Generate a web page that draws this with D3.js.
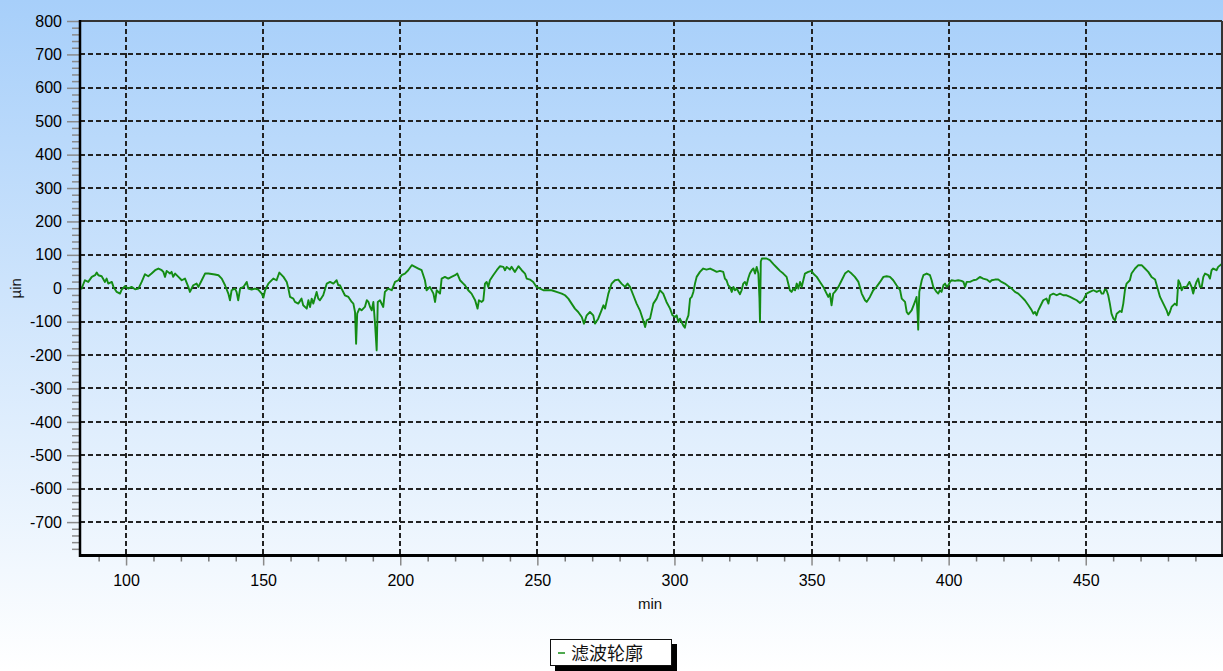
<!DOCTYPE html>
<html>
<head>
<meta charset="utf-8">
<script src="https://cdn.jsdelivr.net/npm/d3@7"></script>
<style>
  body { margin: 0; overflow: hidden; }
  svg { display: block; }
</style>
</head>
<body>
<svg id="chart" width="1223" height="671"></svg>
<script>
// Filtered profile: time (min) and deviation (µin)
const minutes = [
  83.2, 83.8, 84.4, 85.0, 86.2, 87.5, 88.7, 89.3, 89.9, 91.1, 92.3, 92.9, 93.5, 94.8, 95.4, 96.6, 97.8, 98.4, 99.6,
  100.8, 102.0, 103.3, 104.5, 105.7, 106.9, 108.1, 109.3, 110.6, 111.8, 113.0, 113.6, 114.2, 114.8, 116.0, 116.6, 117.2, 117.9, 119.1,
  120.3, 121.5, 122.7, 123.3, 124.5, 125.7, 126.4, 127.6, 128.8, 130.0, 132.4, 133.7, 134.9, 136.1, 137.3, 137.9, 138.5, 139.7,
  140.3, 140.9, 141.6, 142.8, 144.0, 144.6, 145.8, 147.0, 148.2, 149.5, 150.1, 150.7, 151.9,
  152.5, 153.7, 154.9, 155.9, 157.4, 158.6, 159.2, 159.8, 161.0, 161.6, 162.8, 164.0, 164.6, 165.9, 166.5, 167.1, 167.7, 168.3, 169.5,
  170.1, 170.7, 171.9, 173.2, 174.4, 175.6, 176.8, 177.4, 178.0, 178.6, 179.8, 181.1, 182.3, 182.9, 183.5, 183.9, 184.3, 185.1, 185.9,
  187.1, 187.8, 188.4, 189.0, 189.6, 190.2, 190.8, 191.4, 191.8, 192.6, 193.8, 194.4, 195.6, 196.9, 198.1, 199.3,
  200.5, 201.7, 202.9, 204.2, 205.4, 206.6, 207.8, 209.0, 209.6, 210.8, 212.1, 212.7, 213.3, 214.5, 215.1, 216.3, 217.5, 218.7,
  220.0, 220.8, 221.8, 223.0,
  223.6, 224.8, 226.0, 227.3, 228.2, 228.7, 229.7, 230.3, 230.9, 231.5, 232.1, 232.7, 233.9, 235.2, 236.4, 237.6, 238.2, 238.8,
  240.0, 240.6, 241.8, 243.1, 244.3, 245.5, 246.1, 247.3, 248.5, 249.7, 251.0, 252.2, 254.0, 255.2, 257.0, 258.9,
  260.1, 261.3, 262.5, 263.7, 264.9, 266.2, 267.0, 268.0, 269.2, 270.4, 271.0, 272.2, 273.4, 274.1, 274.7, 275.9, 277.1, 278.3, 279.5,
  280.7, 282.0, 282.9, 283.8, 285.0, 286.2, 287.4, 288.6, 289.3, 289.9, 291.1, 292.3, 293.5,
  294.7, 295.9, 297.1, 298.4, 299.3, 300.2, 300.8, 301.4, 302.0, 302.6, 303.2, 303.8, 304.4, 305.1, 305.7, 306.3, 306.9, 307.5, 308.1, 309.3,
  310.5, 311.7, 313.0, 314.2, 315.4, 316.6, 317.8, 318.4, 319.0, 319.6, 320.2, 320.9, 321.5, 322.1, 322.7, 323.9, 324.5, 325.1, 325.7,
  326.3, 326.9, 327.5, 328.2, 328.8, 329.4, 330.0, 330.6, 331.0, 331.2, 331.5, 331.9, 332.4, 333.6, 334.8, 336.1, 337.3, 338.5, 339.7,
  340.9, 341.5, 342.1, 342.7, 343.4, 344.0, 344.6, 345.2, 345.8, 346.4, 347.0, 347.6, 348.8, 350.0, 350.6, 351.9, 353.1, 354.3, 355.5,
  356.1, 356.7, 357.3, 357.9, 358.5, 359.8, 361.0, 362.2, 363.4, 364.6,
  365.8, 367.1, 368.3, 369.5, 370.1, 371.3, 372.5, 373.7, 375.0, 376.2, 377.4, 378.6, 379.8, 381.0, 382.3, 382.9, 384.1, 384.7, 385.3,
  386.5, 387.7, 388.3, 388.7, 388.9, 389.3, 390.2, 390.8, 392.0, 393.2, 393.8, 394.4, 395.6, 396.2, 396.8, 397.4, 398.1, 398.7, 399.3,
  399.9, 400.5, 401.1, 402.3, 403.5, 404.7, 405.4, 406.0, 406.6, 407.8, 409.0, 410.2, 411.4, 412.6, 413.9, 415.1, 415.7, 416.9, 418.1,
  419.3, 420.5, 421.8, 423.0, 424.2, 425.4, 426.6, 427.8, 429.1, 430.3, 430.9, 431.5, 432.1, 432.7,
  433.3, 434.5, 435.7, 436.4, 437.0, 438.2, 439.4, 440.6, 441.8, 443.0, 444.3, 445.5, 446.7, 447.9, 449.1, 449.7, 450.3, 451.5, 452.8,
  454.0, 455.2, 455.8, 456.4, 457.0, 457.6, 458.2, 458.8, 459.4, 460.1, 460.7, 461.3, 462.5, 463.1, 463.7, 464.3, 464.9, 466.1, 466.7,
  468.0, 469.2, 470.4, 471.6, 472.8, 474.0, 475.3, 475.9, 477.1, 478.3, 479.5, 480.1, 480.7, 481.3, 482.5, 483.2, 483.8, 484.4, 485.0,
  485.6, 486.8, 487.8, 488.6, 489.2, 489.8, 490.4, 491.0, 491.7, 492.3, 492.9, 493.5, 494.7, 495.3, 495.9, 496.5, 497.7, 498.3, 499.5
];
const values = [
  5, -1, 12, 24, 19, 34, 39, 47, 39, 36, 19, 29, 14, 19, 4, -11, -16, -4, 6,
  -1, 4, -3, -1, 19, 42, 36, 44, 54, 59, 54, 49, 34, 52, 44, 49, 34, 44, 34,
  24, 29, 4, -11, 9, 14, 4, 24, 44, 44, 41, 39, 29, 9, -16, -36, -6, -1,
  -11, -36, -1, 4, 19, -1, -4, -1, -4, -16, -28, -6, 14,
  19, 29, 24, 47, 34, 19, -1, -26, -31, -41, -46, -31, -51, -61, -36, -56, -31, -46, -11,
  -31, -36, -21, 14, 19, 14, 24, 9, 9, -1, -21, -26, -41, -46, -71, -166, -76, -61, -66,
  -56, -36, -41, -56, -66, -41, -106, -186, -41, -36, -56, -11, -1, -6, 19, 24,
  39, 44, 54, 69, 64, 59, 54, 24, -6, 4, -16, -41, -6, -16, 29, 34, 29, 34,
  39, 44, 24, 14,
  9, -6, -16, -36, -61, -36, -41, -36, 14, 19, 4, 24, 39, 54, 66, 64, 54, 64,
  56, 64, 49, 66, 54, 44, 29, 26, 19, 4, -1, -6, -6, -6, -11, -16,
  -21, -31, -46, -61, -71, -86, -106, -81, -71, -81, -106, -91, -66, -51, -61, -16, 14, 24, 26,
  14, 4, 14, 4, -21, -46, -66, -96, -116, -96, -91, -46, -31,
  -6, -16, -41, -61, -81, -86, -81, -101, -91, -101, -111, -118, -96, -81, -31, -26, -11, 14, 34, 49,
  59, 56, 59, 54, 49, 52, 49, 29, 24, 9, 4, -11, 4, -6, -1, -18, -6, 14, 19,
  9, 29, 44, 54, 59, 44, 64, 44, -30, -101, 80, 89, 89, 89, 84, 72, 62, 52, 44,
  34, 14, -6, -11, -1, -6, 14, -1, 19, 4, 24, 44, 49, 52, 44, 34, 19, 4, -16,
  -26, -16, -51, -16, -11, 4, 24, 44, 52, 44,
  34, 19, -16, -36, -41, -26, -6, 4, 19, 34, 36, 34, 24, 9, -6, -31, -41, -71, -78,
  -66, -41, -26, -81, -124, -11, 24, 39, 44, 39, 24, 4, -11, -16, -6, -11, 9, 14, 4,
  9, 19, 24, 22, 24, 22, 19, 4, 19, 19, 24, 26, 34, 29, 26, 19, 24, 26, 26,
  19, 14, 6, -1, -11, -16, -26, -36, -51, -66, -76, -71, -81, -66,
  -56, -36, -31, -46, -21, -16, -21, -16, -21, -21, -26, -31, -36, -44, -36, -26, -16, -11, -6,
  -11, -6, -16, -16, -4, -6, -21, -46, -76, -91, -96, -76, -68, -71, -46, -6, 14, 24, 44,
  59, 69, 69, 59, 49, 34, 26, 9, -26, -46, -66, -81, -71, -56, -46, -51, 24, 14, -6,
  4, 4, 19, 4, -16, 4, 19, 29, 4, 4, 34, 44, 39, 29, 54, 59, 54, 64, 72
];

const xTicks = [100, 150, 200, 250, 300, 350, 400, 450];
const yTicks = [-700, -600, -500, -400, -300, -200, -100, 0, 100, 200, 300, 400, 500, 600, 700, 800];
const xTitle = "min";
const yTitle = "µin";
const seriesName = "滤波轮廓";

const W = 1223, H = 671;
const plot = { left: 80, top: 21, right: 1222, bottom: 555.5 };
const lineColor = "#148c14";
const labelFont = "'Liberation Sans', Arial, sans-serif";
const plainNumber = d => String(d);

const svg = d3.select("#chart");

// page background gradient
const defs = svg.append("defs");
const grad = defs.append("linearGradient").attr("id", "bg").attr("x1", 0).attr("y1", 0).attr("x2", 0).attr("y2", 1);
grad.append("stop").attr("offset", "0%").attr("stop-color", "#a7cffa");
grad.append("stop").attr("offset", "85%").attr("stop-color", "#f2f8fe");
grad.append("stop").attr("offset", "100%").attr("stop-color", "#ffffff");
svg.append("rect").attr("width", W).attr("height", H).attr("fill", "url(#bg)");

defs.append("clipPath").attr("id", "plotClip")
  .append("rect")
  .attr("x", plot.left).attr("y", plot.top)
  .attr("width", plot.right - plot.left).attr("height", plot.bottom - plot.top);

const x = d3.scaleLinear().domain([83.2, 499.7]).range([plot.left, plot.right]);
const y = d3.scaleLinear().domain([-800, 800]).range([plot.bottom, plot.top]);

// dashed grid
const grid = svg.append("g").attr("stroke", "#222").attr("stroke-width", 2).attr("stroke-dasharray", "5,3");
grid.selectAll("line.v").data(xTicks).join("line")
  .attr("x1", d => Math.round(x(d))).attr("x2", d => Math.round(x(d)))
  .attr("y1", plot.top).attr("y2", plot.bottom);
grid.selectAll("line.h").data(yTicks.filter(v => v < 800)).join("line")
  .attr("x1", plot.left).attr("x2", plot.right)
  .attr("y1", d => Math.round(y(d))).attr("y2", d => Math.round(y(d)));

// profile line
const points = minutes.map((m, i) => [m, values[i]]);
svg.append("path")
  .datum(points)
  .attr("clip-path", "url(#plotClip)")
  .attr("fill", "none")
  .attr("stroke", lineColor)
  .attr("stroke-width", 1.9)
  .attr("stroke-linejoin", "round")
  .attr("d", d3.line().x(d => x(d[0])).y(d => y(d[1])));

// frame: thin top/right, heavy left/bottom axes
svg.append("line").attr("x1", plot.left).attr("x2", plot.right).attr("y1", plot.top).attr("y2", plot.top)
  .attr("stroke", "#333").attr("stroke-width", 2);
svg.append("line").attr("x1", plot.right).attr("x2", plot.right).attr("y1", plot.top).attr("y2", plot.bottom)
  .attr("stroke", "#333").attr("stroke-width", 2);

// y axis minor ticks
const yMinor = d3.range(-780, 800, 20).filter(v => v % 100 !== 0);
svg.append("g").attr("transform", `translate(${plot.left},0)`)
  .call(d3.axisLeft(y).tickValues(yMinor).tickSize(8).tickFormat(""))
  .call(g => g.select(".domain").remove())
  .call(g => g.selectAll("line").attr("stroke", "#8a8a8a").attr("stroke-width", 1.5));

// y axis major ticks and labels
svg.append("g").attr("transform", `translate(${plot.left},0)`)
  .call(d3.axisLeft(y).tickValues(yTicks).tickSize(13).tickPadding(5).tickFormat(plainNumber))
  .call(g => g.select(".domain").remove())
  .call(g => g.selectAll("line").attr("stroke", "#8a8a8a").attr("stroke-width", 1.5))
  .call(g => g.selectAll("text").attr("fill", "#000").style("font", `16px ${labelFont}`));

// x axis minor ticks
const xMinor = d3.range(90, 500, 10).filter(v => v % 50 !== 0);
svg.append("g").attr("transform", `translate(0,${plot.bottom})`)
  .call(d3.axisBottom(x).tickValues(xMinor).tickSize(6).tickFormat(""))
  .call(g => g.select(".domain").remove())
  .call(g => g.selectAll("line").attr("stroke", "#777").attr("stroke-width", 1.5));

// x axis major ticks and labels
svg.append("g").attr("transform", `translate(0,${plot.bottom})`)
  .call(d3.axisBottom(x).tickValues(xTicks).tickSize(10).tickPadding(9).tickFormat(plainNumber))
  .call(g => g.select(".domain").remove())
  .call(g => g.selectAll("line").attr("stroke", "#8a8a8a").attr("stroke-width", 1.5))
  .call(g => g.selectAll("text").attr("fill", "#000").style("font", `16px ${labelFont}`));

svg.append("line").attr("x1", plot.left).attr("x2", plot.left).attr("y1", plot.top - 1).attr("y2", plot.bottom + 1.5)
  .attr("stroke", "#000").attr("stroke-width", 2.5);
svg.append("line").attr("x1", plot.left - 1).attr("x2", plot.right + 1).attr("y1", plot.bottom).attr("y2", plot.bottom)
  .attr("stroke", "#000").attr("stroke-width", 3);

// axis titles
svg.append("text")
  .attr("transform", `translate(21,${y(0)}) rotate(-90)`)
  .attr("text-anchor", "middle")
  .attr("fill", "#111")
  .style("font", `15px ${labelFont}`)
  .text(yTitle);
svg.append("text")
  .attr("x", (plot.left + plot.right) / 2 - 1).attr("y", 609)
  .attr("text-anchor", "middle")
  .attr("fill", "#111")
  .style("font", `15px ${labelFont}`)
  .text(xTitle);

// legend with drop shadow
const legend = svg.append("g").attr("transform", "translate(550,639)");
legend.append("rect").attr("x", 5).attr("y", 5).attr("width", 122).attr("height", 27).attr("fill", "#000");
legend.append("rect").attr("x", 0.5).attr("y", 0.5).attr("width", 121).attr("height", 26)
  .attr("fill", "#fff").attr("stroke", "#111").attr("stroke-width", 1);
legend.append("line").attr("x1", 8).attr("x2", 15).attr("y1", 14).attr("y2", 14)
  .attr("stroke", lineColor).attr("stroke-width", 1.5);
legend.append("text").attr("x", 21).attr("y", 20.5)
  .attr("fill", "#111")
  .style("font", "18px 'Noto Sans CJK SC', sans-serif")
  .text(seriesName);
</script>
</body>
</html>
